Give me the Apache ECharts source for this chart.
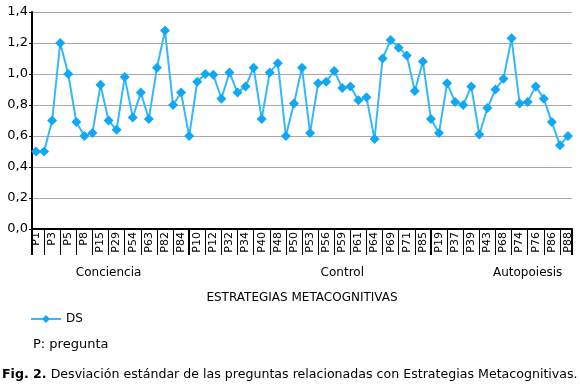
<!DOCTYPE html>
<html>
<head>
<meta charset="utf-8">
<script src="https://cdn.jsdelivr.net/npm/echarts@6/dist/echarts.min.js"></script>
<style>
html,body{margin:0;padding:0;background:#fff;}
#chart{width:580px;height:392px;}
</style>
</head>
<body>
<div id="chart"></div>
<script>
// Categories (question numbers); every other one is shown on the axis
var categories = [
  'P1','P2','P3','P4','P5','P6','P8','P9','P15','P24','P29','P44','P54','P58','P63','P80','P82','P83','P84','P89',
  'P10','P11','P12','P31','P32','P33','P34','P36','P40','P47','P48','P49','P50','P51','P53','P55','P56','P57','P59','P60','P61','P62','P64','P65','P69','P70','P71','P72','P85','P90',
  'P19','P35','P37','P38','P39','P42','P43','P66','P68','P73','P74','P75','P76','P78','P86','P87','P88'
];
// Standard deviation per question
var dsValues = [
  0.50,0.50,0.70,1.20,1.00,0.69,0.60,0.62,0.93,0.70,0.64,0.98,0.72,0.88,0.71,1.04,1.28,0.80,0.88,0.60,
  0.95,1.00,0.995,0.84,1.01,0.88,0.92,1.04,0.71,1.01,1.07,0.60,0.81,1.04,0.62,0.94,0.95,1.02,0.91,0.92,0.83,0.85,0.58,1.10,1.22,1.17,1.12,0.89,1.08,0.71,
  0.62,0.94,0.82,0.80,0.92,0.61,0.78,0.90,0.97,1.23,0.81,0.82,0.92,0.84,0.69,0.54,0.60
];
// Category groups: name, category at each group separator, category under which each group label sits
var groupNames = ['Conciencia', 'Control', 'Autopoiesis'];
var groupSeparators = ['P89', 'P90'];
var groupLabelUnder = ['P24', 'P59', 'P75'];
var yTicks = [0, 0.2, 0.4, 0.6, 0.8, 1.0, 1.2, 1.4];

var seriesName = 'DS';
var axisTitle = 'ESTRATEGIAS METACOGNITIVAS';
var noteText = 'P: pregunta';
var captionBold = 'Fig. 2.';
var captionText = ' Desviación estándar de las preguntas relacionadas con Estrategias Metacognitivas.';

var sepIdx = groupSeparators.map(function (c) { return categories.indexOf(c); });
var centers = {};
groupLabelUnder.forEach(function (c, gi) { centers[categories.indexOf(c)] = groupNames[gi]; });

var FONT = 'DejaVu Sans';
var chart = echarts.init(document.getElementById('chart'), null, {renderer: 'canvas'});
chart.setOption({
  animation: false,
  backgroundColor: '#fff',
  textStyle: {fontFamily: FONT, color: '#000'},
  grid: {left: 32, right: 8, top: 12, bottom: 163, containLabel: false},
  title: [
    {text: noteText, left: 33, top: 338, padding: 0, textStyle: {fontFamily: FONT, fontSize: 13, fontWeight: 'normal', color: '#000'}},
    {text: '{b|' + captionBold + '}{n|' + captionText + '}', left: 2, top: 368, padding: 0,
     textStyle: {rich: {
       b: {fontFamily: FONT, fontSize: 12.6, fontWeight: 'bold', color: '#000'},
       n: {fontFamily: FONT, fontSize: 12.6, fontWeight: 'normal', color: '#000'}
     }}}
  ],
  legend: {
    data: [seriesName], left: 30, top: 313, padding: 0, itemWidth: 30, itemHeight: 10, itemGap: 6,
    textStyle: {fontFamily: FONT, fontSize: 12, color: '#000'}
  },
  xAxis: [
    {
      type: 'category', data: categories, boundaryGap: true,
      axisLine: {show: true, lineStyle: {color: '#000', width: 2}},
      axisTick: {show: true, alignWithLabel: true, length: 26, lineStyle: {color: '#000', width: 1},
        interval: function (i) { return i % 2 === 1; }},
      axisLabel: {rotate: 90, margin: 3, fontSize: 11, color: '#000', fontFamily: FONT,
        interval: function (i) { return i % 2 === 0; }},
      splitLine: {show: false}
    },
    {
      type: 'category', data: categories, boundaryGap: true, position: 'bottom',
      axisLine: {show: false},
      axisTick: {show: true, alignWithLabel: true, length: 26, lineStyle: {color: '#000', width: 2},
        interval: function (i) { return sepIdx.indexOf(i) >= 0; }},
      axisLabel: {show: true, margin: 38, fontSize: 12, color: '#000', fontFamily: FONT,
        interval: function (i) { return centers[i] !== undefined; },
        formatter: function (v, i) { return centers[i] || ''; }},
      name: axisTitle, nameLocation: 'middle', nameGap: 63,
      nameTextStyle: {fontFamily: FONT, fontSize: 12, color: '#000'}
    },
    {
      type: 'category', data: categories, boundaryGap: true, position: 'bottom',
      axisLine: {show: false},
      axisTick: {show: true, alignWithLabel: false, length: 26, lineStyle: {color: '#000', width: 2},
        interval: function (i) { return i === 0 || i >= categories.length; }},
      axisLabel: {show: false}
    }
  ],
  yAxis: {
    type: 'value', min: yTicks[0], max: yTicks[yTicks.length - 1], interval: yTicks[1] - yTicks[0],
    axisLine: {show: true, lineStyle: {color: '#000', width: 2}},
    axisTick: {show: true, length: 3, lineStyle: {color: '#000'}},
    axisLabel: {fontSize: 13, color: '#000', fontFamily: FONT, margin: 4,
      formatter: function (v) { return v.toFixed(1).replace('.', ','); }},
    splitLine: {show: true, lineStyle: {color: '#a8a8a8', width: 1}}
  },
  series: [{
    name: seriesName, type: 'line', data: dsValues, xAxisIndex: 0,
    symbol: 'diamond', symbolSize: 10, showSymbol: true, showAllSymbol: true,
    lineStyle: {color: '#35b8fa', width: 2},
    itemStyle: {color: '#10a8f5', borderWidth: 0}
  }]
});
</script>
</body>
</html>
